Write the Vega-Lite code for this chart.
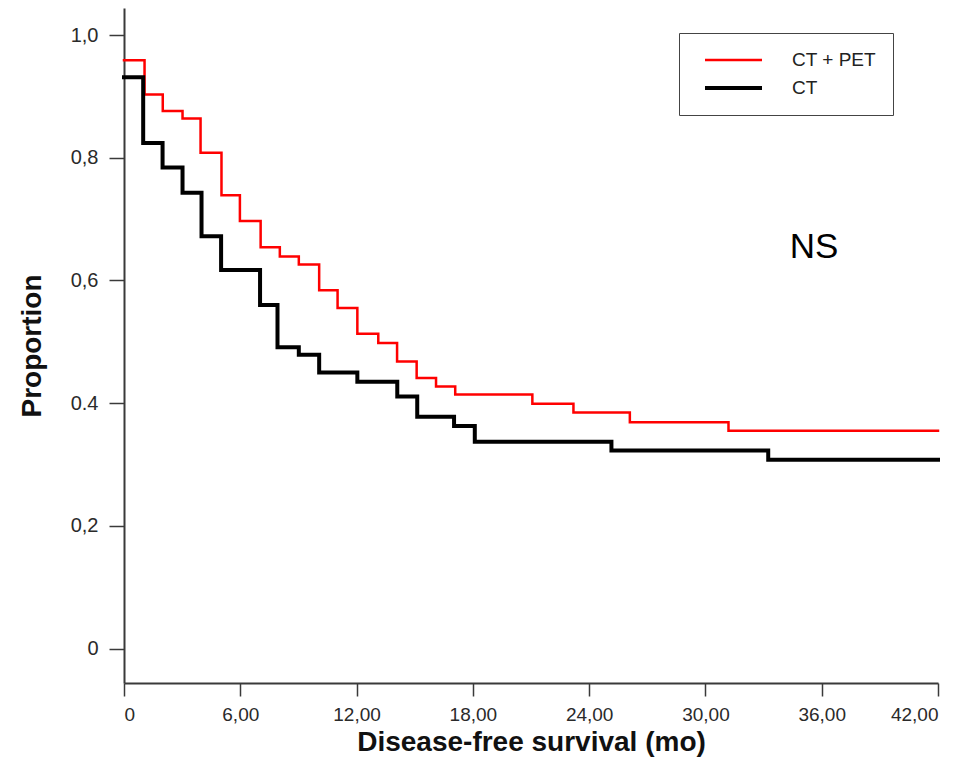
{
  "$schema": "https://vega.github.io/schema/vega-lite/v6.json",
  "width": 814,
  "height": 675,
  "autosize": "none",
  "padding": {"left": 124, "top": 8, "right": 42, "bottom": 97},
  "background": "white",
  "config": {
    "view": {"stroke": null},
    "font": "Liberation Sans",
    "axis": {
      "grid": false,
      "domainColor": "#3a3a3a",
      "domainWidth": 2,
      "tickColor": "#3a3a3a",
      "tickWidth": 1.5,
      "labelFont": "Liberation Sans",
      "labelFontSize": 20,
      "labelColor": "#2a2a2a",
      "titleFont": "Liberation Sans",
      "titleFontWeight": "bold",
      "titleColor": "#111111"
    }
  },
  "datasets": {
    "km": [
      {"series": "CT + PET", "t": 0, "p": 0.959},
      {"series": "CT + PET", "t": 1.06, "p": 0.903},
      {"series": "CT + PET", "t": 2.0, "p": 0.876},
      {"series": "CT + PET", "t": 3.02, "p": 0.864},
      {"series": "CT + PET", "t": 3.95, "p": 0.808},
      {"series": "CT + PET", "t": 5.03, "p": 0.739},
      {"series": "CT + PET", "t": 5.98, "p": 0.697},
      {"series": "CT + PET", "t": 7.05, "p": 0.654},
      {"series": "CT + PET", "t": 8.04, "p": 0.639},
      {"series": "CT + PET", "t": 9.02, "p": 0.626},
      {"series": "CT + PET", "t": 10.07, "p": 0.584},
      {"series": "CT + PET", "t": 11.02, "p": 0.555},
      {"series": "CT + PET", "t": 12.04, "p": 0.513},
      {"series": "CT + PET", "t": 13.12, "p": 0.498},
      {"series": "CT + PET", "t": 14.09, "p": 0.468},
      {"series": "CT + PET", "t": 15.1, "p": 0.441},
      {"series": "CT + PET", "t": 16.1, "p": 0.427},
      {"series": "CT + PET", "t": 17.09, "p": 0.414},
      {"series": "CT + PET", "t": 21.07, "p": 0.399},
      {"series": "CT + PET", "t": 23.19, "p": 0.385},
      {"series": "CT + PET", "t": 26.1, "p": 0.369},
      {"series": "CT + PET", "t": 31.19, "p": 0.355},
      {"series": "CT + PET", "t": 42, "p": 0.355},
      {"series": "CT", "t": 0, "p": 0.931},
      {"series": "CT", "t": 0.99, "p": 0.824},
      {"series": "CT", "t": 1.99, "p": 0.784},
      {"series": "CT", "t": 3.02, "p": 0.743},
      {"series": "CT", "t": 4.0, "p": 0.672},
      {"series": "CT", "t": 5.01, "p": 0.617},
      {"series": "CT", "t": 7.02, "p": 0.56},
      {"series": "CT", "t": 7.92, "p": 0.491},
      {"series": "CT", "t": 9.02, "p": 0.479},
      {"series": "CT", "t": 10.07, "p": 0.45},
      {"series": "CT", "t": 12.04, "p": 0.435},
      {"series": "CT", "t": 14.1, "p": 0.411},
      {"series": "CT", "t": 15.13, "p": 0.378},
      {"series": "CT", "t": 17.03, "p": 0.363},
      {"series": "CT", "t": 18.1, "p": 0.337},
      {"series": "CT", "t": 25.15, "p": 0.323},
      {"series": "CT", "t": 33.24, "p": 0.308},
      {"series": "CT", "t": 42, "p": 0.308}
    ],
    "note": [
      {"note": "NS", "t": 35.6, "p": 0.655}
    ]
  },
  "layer": [
    {
      "data": {"name": "km"},
      "mark": {"type": "line", "interpolate": "step-after", "strokeCap": "square"},
      "encoding": {
        "x": {
          "field": "t",
          "type": "quantitative",
          "scale": {"domain": [0, 42], "nice": false, "zero": false},
          "axis": {
            "values": [0, 6, 12, 18, 24, 30, 36, 42],
            "labelExpr": "datum.value == 0 ? '0' : format(datum.value, '.0f') + ',00'",
            "tickSize": 13,
            "labelFontSize": 19,
            "labelPadding": 9,
            "title": "Disease-free survival (mo)",
            "titleFontSize": 28,
            "titlePadding": 4
          }
        },
        "y": {
          "field": "p",
          "type": "quantitative",
          "scale": {"domain": [-0.056, 1.044], "nice": false, "zero": false},
          "axis": {
            "values": [0, 0.2, 0.4, 0.6, 0.8, 1.0],
            "labelExpr": "datum.value == 0 ? '0' : (datum.value > 0.35 && datum.value < 0.45 ? '0.4' : replace(format(datum.value, '.1f'), '.', ','))",
            "tickSize": 15,
            "labelPadding": 11,
            "title": "Proportion",
            "titleFontSize": 28,
            "titlePadding": 24
          }
        },
        "color": {
          "field": "series",
          "type": "nominal",
          "scale": {"domain": ["CT + PET", "CT"], "range": ["#ff0000", "#000000"]},
          "legend": {
            "title": null,
            "orient": "none",
            "legendX": 555,
            "legendY": 25,
            "direction": "vertical",
            "symbolType": "stroke",
            "symbolSize": 3249,
            "symbolStrokeWidth": 3.5,
            "symbolOffset": 7,
            "clipHeight": 20,
            "rowPadding": 8,
            "labelOffset": 28,
            "labelFontSize": 19,
            "labelFont": "Liberation Sans",
            "labelColor": "#222222",
            "padding": 17,
            "strokeColor": "#444444",
            "cornerRadius": 0,
            "fillColor": "white"
          }
        },
        "strokeWidth": {
          "field": "series",
          "type": "nominal",
          "scale": {"domain": ["CT + PET", "CT"], "range": [2.5, 4]},
          "legend": null
        }
      }
    },
    {
      "data": {"name": "note"},
      "mark": {"type": "text", "fontSize": 35, "font": "Liberation Sans", "color": "#000000", "align": "center", "baseline": "middle"},
      "encoding": {
        "x": {"field": "t", "type": "quantitative"},
        "y": {"field": "p", "type": "quantitative"},
        "text": {"field": "note", "type": "nominal"}
      }
    }
  ]
}
